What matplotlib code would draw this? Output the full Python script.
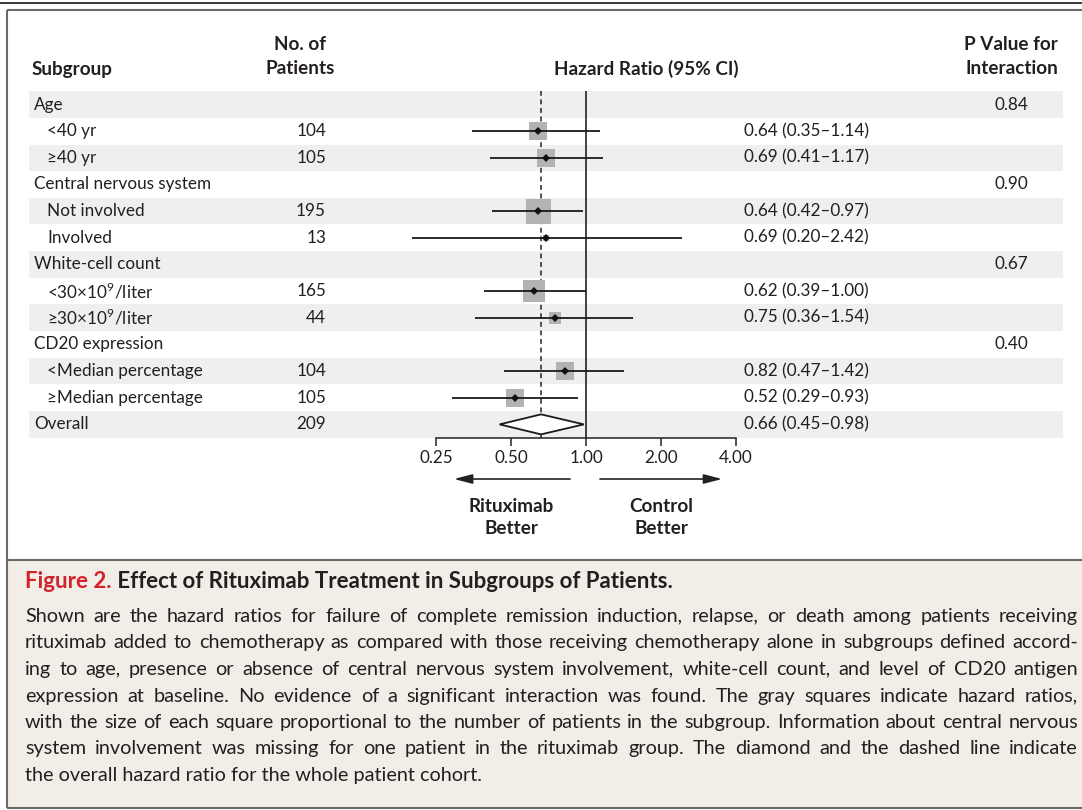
import matplotlib
matplotlib.use("Agg")
import matplotlib.pyplot as plt
from matplotlib.patches import Polygon, Rectangle
from matplotlib.transforms import blended_transform_factory
import numpy as np

# ---------------- data ----------------
labels = ["Age", "<40 yr", "≥40 yr", "Central nervous system", "Not involved", "Involved",
          "White-cell count", r"<30×10$^{\mathregular{9}}$/liter", r"≥30×10$^{\mathregular{9}}$/liter",
          "CD20 expression", "<Median percentage", "≥Median percentage", "Overall"]
indented = [False, True, True, False, True, True, False, True, True, False, True, True, False]
n_patients = [None, 104, 105, None, 195, 13, None, 165, 44, None, 104, 105, 209]
hazard_ratio = [None, 0.64, 0.69, None, 0.64, 0.69, None, 0.62, 0.75, None, 0.82, 0.52, 0.66]
ci_low = [None, 0.35, 0.41, None, 0.42, 0.20, None, 0.39, 0.36, None, 0.47, 0.29, 0.45]
ci_high = [None, 1.14, 1.17, None, 0.97, 2.42, None, 1.00, 1.54, None, 1.42, 0.93, 0.98]
p_interaction = ["0.84", "", "", "0.90", "", "", "0.67", "", "", "0.40", "", "", ""]
is_overall = [False] * 12 + [True]
x_ticks = [0.25, 0.5, 1.0, 2.0, 4.0]
x_tick_labels = ["0.25", "0.50", "1.00", "2.00", "4.00"]

caption_title_red = "Figure 2."
caption_title = "Effect of Rituximab Treatment in Subgroups of Patients."
caption_lines = [
    "Shown are the hazard ratios for failure of complete remission induction, relapse, or death among patients receiving",
    "rituximab added to chemotherapy as compared with those receiving chemotherapy alone in subgroups defined accord-",
    "ing to age, presence or absence of central nervous system involvement, white-cell count, and level of CD20 antigen",
    "expression at baseline. No evidence of a significant interaction was found. The gray squares indicate hazard ratios,",
    "with the size of each square proportional to the number of patients in the subgroup. Information about central nervous",
    "system involvement was missing for one patient in the rituximab group. The diamond and the dashed line indicate",
    "the overall hazard ratio for the whole patient cohort.",
]

# ---------------- style ----------------
plt.rcParams["font.family"] = ["Lato", "DejaVu Sans"]
TXT = "#231F20"
FS = 12.3
FSB = 13.6
CAP_FS = 14.3
CAP_FSB = 16.0
W, H = 1082, 810

fig = plt.figure(figsize=(W / 100, H / 100), dpi=100)
renderer = fig.canvas.get_renderer()

def fx(x):
    return x / W

def fy(y):
    return 1 - y / H

# frame axes in pixel coordinates
ax0 = fig.add_axes([0, 0, 1, 1])
ax0.set_xlim(0, W)
ax0.set_ylim(H, 0)
ax0.axis("off")
ax0.add_patch(Rectangle((7, 560), W, 248, facecolor="#F2EDE7", edgecolor="none"))
ax0.plot([0, W], [3, 3], color="#3a3a3a", lw=1.4, solid_capstyle="butt")
ax0.plot([7, W], [10, 10], color="#6a6a6a", lw=1.5, solid_capstyle="butt")
ax0.plot([7, 7], [10, 808], color="#6a6a6a", lw=1.5, solid_capstyle="butt")
ax0.plot([7, W], [560, 560], color="#6a6a6a", lw=1.5, solid_capstyle="butt")
ax0.plot([7, W], [808, 808], color="#6a6a6a", lw=1.5, solid_capstyle="butt")

# headers
hk = dict(fontsize=FSB, fontweight="bold", color=TXT, va="center")
ax0.text(32, 69, "Subgroup", ha="left", **hk)
ax0.text(300, 45, "No. of", ha="center", **hk)
ax0.text(300, 69, "Patients", ha="center", **hk)
ax0.text(646, 69, "Hazard Ratio (95% CI)", ha="center", **hk)
ax0.text(1058, 45, "P Value for", ha="right", **hk)
ax0.text(1058, 69, "Interaction", ha="right", **hk)

# caption
t1 = ax0.text(25, 588, caption_title_red, fontsize=CAP_FSB, fontweight="bold", color="#D2232A",
              ha="left", va="baseline")
ax0.annotate(" " + caption_title, xy=(1, 0), xycoords=t1, fontsize=CAP_FSB, fontweight="bold",
             color=TXT, ha="left", va="bottom")

cap_left, cap_right = 25, 1078
for k, line in enumerate(caption_lines):
    yk = float(round(622 + k * 26.5))
    if k == len(caption_lines) - 1:
        ax0.text(cap_left, yk, line, fontsize=CAP_FS, color=TXT, ha="left", va="baseline")
        continue
    words = line.split(" ")
    arts = [ax0.text(0, yk, w_, fontsize=CAP_FS, color=TXT, ha="left", va="baseline") for w_ in words]
    widths = [a.get_window_extent(renderer).width for a in arts]
    gap = (cap_right - cap_left - sum(widths)) / (len(words) - 1)
    xpos = cap_left
    for a, wd, w_ in zip(arts, widths, words):
        # compensate the per-string bitmap rounding of the Agg text renderer so that
        # all justified words share one baseline
        _, hh_, d = renderer.get_text_width_height_descent(w_, a.get_fontproperties(), ismath=False)
        a.set_position((xpos, yk + np.floor(hh_) - np.floor(hh_ - d) - d))
        xpos += wd + gap

# rows axes (bands + text columns)
top, bottom = 91.2, 437.7
nrows = len(labels)
axr = fig.add_axes([fx(29), fy(bottom), (1063 - 29) / W, (bottom - top) / H])
axr.set_xlim(29, 1063)
axr.set_ylim(nrows - 0.5, -0.5)
axr.axis("off")
for i in range(nrows):
    if i % 2 == 0:
        axr.axhspan(i - 0.5, i + 0.5, color="#EFEFEF", lw=0)
    axr.text(47 if indented[i] else 34, i, labels[i], fontsize=FS, color=TXT, ha="left", va="center")
    if n_patients[i] is not None:
        axr.text(326, i, str(n_patients[i]), fontsize=FS, color=TXT, ha="right", va="center")
    if hazard_ratio[i] is not None:
        axr.text(744, i, f"{hazard_ratio[i]:.2f} ({ci_low[i]:.2f}–{ci_high[i]:.2f})",
                 fontsize=FS, color=TXT, ha="left", va="center")
    if p_interaction[i]:
        axr.text(1028, i, p_interaction[i], fontsize=FS, color=TXT, ha="right", va="center")

# forest axes
axf = fig.add_axes([fx(361), fy(bottom), 450 / W, (bottom - top) / H])
axf.patch.set_visible(False)
axf.set_xscale("log", base=2)
axf.set_xlim(0.125, 8)
axf.set_ylim(nrows - 0.5, -0.5)
for s in ["top", "left", "right"]:
    axf.spines[s].set_visible(False)
axf.spines["bottom"].set_bounds(x_ticks[0], x_ticks[-1])
axf.spines["bottom"].set_linewidth(1.1)
axf.spines["bottom"].set_color("#222222")
axf.set_xticks(x_ticks)
axf.set_xticklabels(x_tick_labels)
axf.xaxis.set_minor_locator(matplotlib.ticker.NullLocator())
axf.tick_params(axis="x", direction="out", length=5.8, width=1.1, pad=3, labelsize=FS,
                colors="#222222", labelcolor=TXT)
axf.set_yticks([])

overall_idx = is_overall.index(True)
axf.axvline(1.0, color="#222222", lw=1.2, zorder=1)
axf.axvline(hazard_ratio[overall_idx], color="#222222", lw=1.1, ls=(0, (3.2, 2.4)), zorder=1)

for i in range(nrows):
    if hazard_ratio[i] is None:
        continue
    if is_overall[i]:
        hh = 0.375
        axf.add_patch(Polygon([(ci_low[i], i), (hazard_ratio[i], i - hh), (ci_high[i], i),
                               (hazard_ratio[i], i + hh)], closed=True, facecolor="white",
                              edgecolor="#1a1a1a", lw=1.3, zorder=4))
        continue
    side_px = 25 * np.sqrt(n_patients[i] / 195)
    axf.plot([hazard_ratio[i]], [i], marker="s", ms=side_px * 0.72, color="#B3B3B3", mew=0,
             ls="none", zorder=2)
    axf.plot([ci_low[i], ci_high[i]], [i, i], color="#1a1a1a", lw=1.3, zorder=3,
             solid_capstyle="butt")
    axf.plot([hazard_ratio[i]], [i], marker="D", ms=3.6, color="#111111", mew=0, ls="none", zorder=5)

# arrows and labels
arrow_y = -(479 - bottom) / (bottom - top)
ap = dict(arrowstyle="-|>,head_length=0.85,head_width=0.22", color="#222222", lw=1.2,
          mutation_scale=13, shrinkA=0, shrinkB=0)
axf.annotate("", xy=(0.295, arrow_y), xytext=(0.863, arrow_y),
             xycoords=("data", "axes fraction"), textcoords=("data", "axes fraction"), arrowprops=ap)
axf.annotate("", xy=(3.52, arrow_y), xytext=(1.138, arrow_y),
             xycoords=("data", "axes fraction"), textcoords=("data", "axes fraction"), arrowprops=ap)
tr = blended_transform_factory(axf.transData, axf.transAxes)
for xv, l1, l2 in [(0.5, "Rituximab", "Better"), (2.0, "Control", "Better")]:
    axf.text(xv, -(506 - bottom) / (bottom - top), l1, transform=tr, fontsize=FSB, fontweight="bold",
             color=TXT, ha="center", va="center")
    axf.text(xv, -(528 - bottom) / (bottom - top), l2, transform=tr, fontsize=FSB, fontweight="bold",
             color=TXT, ha="center", va="center")

fig.savefig("out.png", dpi=100)
